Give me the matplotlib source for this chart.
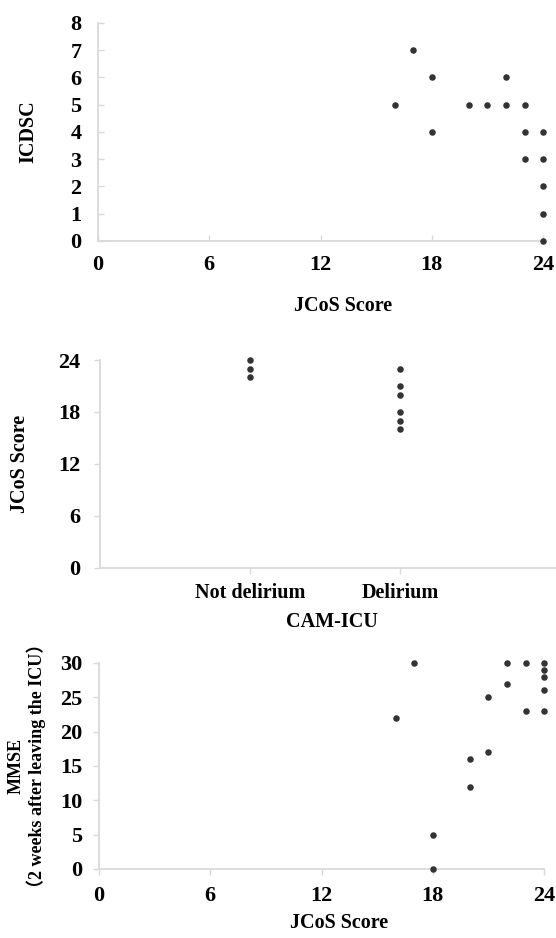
import matplotlib
matplotlib.use("Agg")
import matplotlib.pyplot as plt

# =========================
# Data
# =========================

# Panel 1: JCoS score vs ICDSC
icdsc_jcos = [16, 17, 18, 18, 20, 21, 22, 22, 23, 23, 23, 24, 24, 24, 24, 24]
icdsc_vals = [5, 7, 6, 4, 5, 5, 6, 5, 5, 4, 3, 4, 3, 2, 1, 0]

# Panel 2: JCoS score by CAM-ICU group
cam_groups = ["Not delirium", "Delirium"]
not_delirium_jcos = [24, 23, 22]
delirium_jcos = [23, 21, 20, 18, 17, 16]

# Panel 3: JCoS score vs MMSE (2 weeks after leaving the ICU)
mmse_jcos = [16, 17, 18, 18, 20, 20, 21, 21, 22, 22, 23, 23, 24, 24, 24, 24, 24]
mmse_vals = [22, 30, 5, 0, 16, 12, 25, 17, 30, 27, 30, 23, 30, 29, 28, 26, 23]

jcos_ticks = [0, 6, 12, 18, 24]
icdsc_ticks = list(range(0, 9))
cam_yticks = [0, 6, 12, 18, 24]
mmse_ticks = [0, 5, 10, 15, 20, 25, 30]

# =========================
# Style
# =========================

plt.rcParams["font.family"] = ["Liberation Serif", "Noto Sans CJK JP"]
plt.rcParams["font.weight"] = "bold"

axis_grey = "#d9d9d9"
dot_color = "#333333"
dot_size = 22
tick_fs = 16
label_fs = 14.5


def style_axes(ax, direction):
    for side in ["top", "right"]:
        ax.spines[side].set_visible(False)
    for side in ["left", "bottom"]:
        ax.spines[side].set_color(axis_grey)
        ax.spines[side].set_linewidth(1.3)
    ax.tick_params(axis="both", direction=direction, length=4, width=1.0,
                   color=axis_grey, labelsize=tick_fs)
    for lab in ax.get_xticklabels() + ax.get_yticklabels():
        lab.set_fontweight("bold")


fig = plt.figure(figsize=(5.56, 9.38), dpi=100)

# =========================
# Panel 1
# =========================

ax1 = fig.add_axes([0.1763, 0.7431, 0.8004, 0.2324])
ax1.scatter(icdsc_jcos, icdsc_vals, s=dot_size, color=dot_color,
            zorder=3, clip_on=False, linewidths=0)
ax1.set_xlim(0, 24)
ax1.set_ylim(0, 8)
ax1.set_xticks(jcos_ticks)
ax1.set_yticks(icdsc_ticks)
style_axes(ax1, "in")
ax1.tick_params(axis="y", pad=12)
ax1.tick_params(axis="x", pad=10)
ax1.set_xlabel("JCoS Score", fontsize=label_fs, fontweight="bold")
ax1.xaxis.set_label_coords(0.55, -0.30)
ax1.xaxis.label.set_va("center")
ax1.set_ylabel("ICDSC", fontsize=label_fs, fontweight="bold")
ax1.yaxis.set_label_coords(-0.157, 0.5)
ax1.yaxis.label.set_va("center")

# =========================
# Panel 2
# =========================

ax2 = fig.add_axes([0.1799, 0.3945, 0.8201, 0.2217])
ax2.scatter([1] * len(not_delirium_jcos), not_delirium_jcos, s=dot_size,
            color=dot_color, zorder=3, clip_on=False, linewidths=0)
ax2.scatter([2] * len(delirium_jcos), delirium_jcos, s=dot_size,
            color=dot_color, zorder=3, clip_on=False, linewidths=0)
ax2.set_xlim(0, 3.04)
ax2.set_ylim(0, 24)
ax2.set_xticks([1, 2])
ax2.set_xticklabels(cam_groups)
ax2.set_yticks(cam_yticks)
style_axes(ax2, "out")
ax2.tick_params(axis="x", labelsize=label_fs, pad=7)
ax2.tick_params(axis="y", pad=10)
ax2.set_xlabel("CAM-ICU", fontsize=label_fs, fontweight="bold")
ax2.xaxis.set_label_coords(0.509, -0.26)
ax2.xaxis.label.set_va("center")
ax2.set_ylabel("JCoS Score", fontsize=label_fs, fontweight="bold")
ax2.yaxis.set_label_coords(-0.175, 0.5)
ax2.yaxis.label.set_va("center")

# =========================
# Panel 3
# =========================

ax3 = fig.add_axes([0.1781, 0.0736, 0.8004, 0.2196])
ax3.scatter(mmse_jcos, mmse_vals, s=dot_size, color=dot_color,
            zorder=3, clip_on=False, linewidths=0)
ax3.set_xlim(0, 24)
ax3.set_ylim(0, 30)
ax3.set_xticks(jcos_ticks)
ax3.set_yticks(mmse_ticks)
style_axes(ax3, "out")
ax3.tick_params(axis="y", pad=8)
ax3.tick_params(axis="x", pad=8)
ax3.set_xlabel("JCoS Score", fontsize=label_fs, fontweight="bold")
ax3.xaxis.set_label_coords(0.54, -0.262)
ax3.xaxis.label.set_va("center")
ax3.set_ylabel("MMSE\n（2 weeks after leaving the ICU）", fontsize=13,
               fontweight="bold", linespacing=1.1)
ax3.yaxis.set_label_coords(-0.162, 0.5)
ax3.yaxis.label.set_va("center")

fig.savefig("out.png", dpi=100)
